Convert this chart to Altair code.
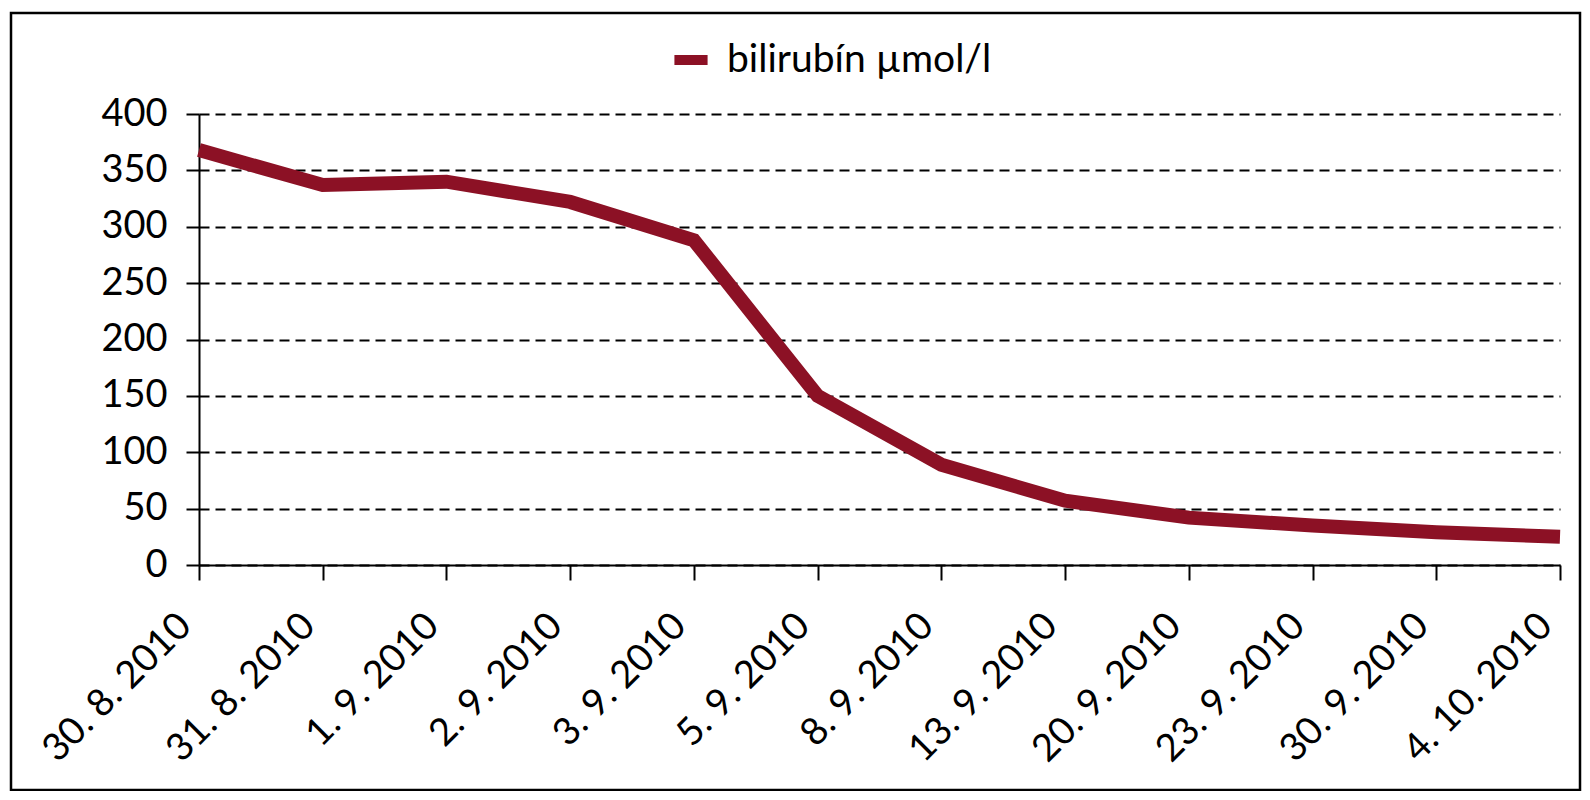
import altair as alt
import pandas as pd

# Bilirubin values
dates = ["30. 8. 2010", "31. 8. 2010", "1. 9. 2010", "2. 9. 2010", "3. 9. 2010",
         "5. 9. 2010", "8. 9. 2010", "13. 9. 2010", "20. 9. 2010", "23. 9. 2010",
         "30. 9. 2010", "4. 10. 2010"]
bilirubin = [368, 337, 340, 322, 288, 150, 89, 57, 42, 35, 29, 25]
series = "bilirubín µmol/l"
y_ticks = list(range(0, 401, 50))

df = pd.DataFrame({"datum": dates, "value": bilirubin, "series": series})

line = alt.Chart(df).mark_line(strokeWidth=14).encode(
    x=alt.X("datum:N", sort=dates, title=None,
            scale=alt.Scale(type="point", padding=0),
            axis=alt.Axis(labelAngle=-45, labelAlign="right", labelBaseline="middle",
                          labelFontSize=38, labelPadding=40, labelOffset=-14,
                          tickSize=15, tickWidth=2, tickColor="black",
                          domainColor="black", domainWidth=2, grid=False,
                          labelColor="black", labelFont="Lato", labelLimit=0)),
    y=alt.Y("value:Q", title=None,
            scale=alt.Scale(domain=[0, 400], nice=False),
            axis=alt.Axis(values=y_ticks, labelFontSize=38, labelPadding=19,
                          tickSize=13, tickWidth=2, tickColor="black",
                          domainColor="black", domainWidth=2, labelColor="black",
                          labelFont="Lato", grid=True, gridColor="black",
                          gridWidth=2, gridDash=[10, 6])),
    color=alt.Color("series:N", title=None,
                    scale=alt.Scale(domain=[series], range=["#8c1125"]),
                    legend=alt.Legend(orient="none", legendX=470, legendY=-76,
                                      symbolType="stroke", symbolStrokeWidth=10,
                                      symbolSize=1100, labelFontSize=39,
                                      labelFont="Lato", labelColor="black",
                                      labelOffset=14, labelLimit=0))
)

frame = alt.Chart(pd.DataFrame({"a": [0]})).mark_rect(
    fill=None, stroke="black", strokeWidth=2.5
).encode(
    x=alt.value(-188), x2=alt.value(1381), y=alt.value(-101), y2=alt.value(676)
)

chart = alt.layer(line, frame).properties(
    width=1361,
    height=451,
    autosize=alt.AutoSizeParams(type="none"),
    padding={"left": 191, "top": 106, "right": 22, "bottom": 226},
).configure_view(
    stroke=None
)

chart.save("out.html", embed_options={"renderer": "svg", "actions": False})
